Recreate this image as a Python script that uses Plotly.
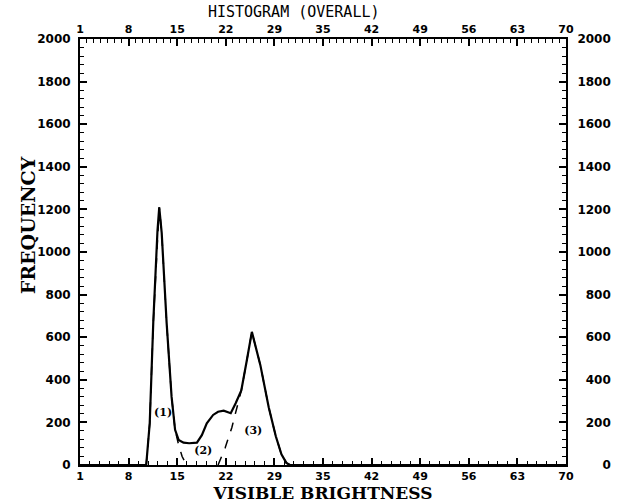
import numpy as np
import plotly.graph_objects as go

# ---- data ----
x_tick_vals = list(np.linspace(1, 70, 11))
x_tick_text = ["1", "8", "15", "22", "29", "35", "42", "49", "56", "63", "70"]
y_tick_vals = list(range(0, 2001, 200))

# overall histogram (solid)
hist_x = [1, 10.4, 10.9, 11.4, 12.0, 12.25, 12.6, 13.3, 14.0, 14.5, 15.0, 15.7, 16.5, 17.6,
          18.3, 19.0, 19.9, 20.6, 21.4, 22.4, 23.1, 23.9, 24.7, 25.4, 26.6, 27.8, 28.8,
          29.6, 30.3, 30.8, 70]
hist_y = [0, 0, 196, 667, 1100, 1210, 1090, 667, 321, 165, 118, 105, 102, 105,
          140, 196, 235, 250, 255, 243, 290, 350, 494, 625, 470, 270, 135,
          50, 10, 0, 0]

# component (1) (dashed)
comp1_x = [10.4, 10.9, 11.4, 12.0, 12.25, 12.6, 13.3, 14.0, 14.5, 15.0, 15.5, 16.0, 16.4]
comp1_y = [0, 196, 667, 1100, 1210, 1090, 667, 321, 165, 95, 40, 8, 0]

# component (3) (dashed)
comp3_x = [20.6, 21.6, 22.55, 23.3, 23.9, 24.7, 25.4, 26.6, 27.8, 28.8, 29.6, 30.3, 30.8]
comp3_y = [0, 80, 175, 275, 350, 494, 625, 470, 270, 135, 50, 10, 0]

# region labels
label_text = ["(1)", "(2)", "(3)"]
label_x = [12.8, 18.5, 25.6]
label_y = [243, 63, 157]

# ---- figure ----
fig = go.Figure()
fig.add_trace(go.Scatter(x=comp1_x, y=comp1_y, mode="lines",
                         line=dict(color="black", width=1.5, dash="dash"), showlegend=False))
fig.add_trace(go.Scatter(x=comp3_x, y=comp3_y, mode="lines",
                         line=dict(color="black", width=1.5, dash="dash"), showlegend=False))
fig.add_trace(go.Scatter(x=hist_x, y=hist_y, mode="lines",
                         line=dict(color="black", width=2.2), showlegend=False))
fig.add_trace(go.Scatter(x=label_x, y=label_y, mode="text", text=label_text,
                         textfont=dict(family="DejaVu Serif", size=11, color="black", weight="bold"),
                         showlegend=False))
# invisible trace for the mirrored axes
fig.add_trace(go.Scatter(x=[1, 70], y=[0, 2000], xaxis="x2", yaxis="y2", mode="markers",
                         marker=dict(opacity=0), showlegend=False, hoverinfo="skip"))

tickfont = dict(family="DejaVu Sans", size=12, color="black", weight="bold")
xtickfont = dict(family="DejaVu Sans", size=11, color="black", weight="bold")

minor_top = list(np.arange(1, 70.0001, 6.9 / 7))
minor_bot = list(np.arange(1, 70.0001, 6.9 / 5))

fig.update_layout(
    width=617, height=503,
    margin=dict(l=80, r=51, t=39, b=38),
    plot_bgcolor="white", paper_bgcolor="white",
    font=dict(family="DejaVu Sans", color="black"),
    xaxis=dict(range=[1, 70], tickmode="array", tickvals=x_tick_vals, ticktext=x_tick_text,
               ticks="inside", ticklen=7, tickwidth=1.5, tickcolor="black",
               minor=dict(ticks="inside", ticklen=4, tickwidth=1.2, tickcolor="black",
                          tickmode="array", tickvals=minor_bot),
               showline=True, linewidth=2, linecolor="black", showgrid=False, zeroline=False,
               tickfont=xtickfont, automargin=False,
               title=dict(text="VISIBLE BRIGHTNESS", standoff=12,
                          font=dict(family="DejaVu Serif", size=17, weight="bold"))),
    xaxis2=dict(range=[1, 70], overlaying="x", side="top", anchor="y",
                tickmode="array", tickvals=x_tick_vals, ticktext=x_tick_text,
                ticks="inside", ticklen=7, tickwidth=1.5, tickcolor="black",
                minor=dict(ticks="inside", ticklen=4, tickwidth=1.2, tickcolor="black",
                           tickmode="array", tickvals=minor_top),
                showline=True, linewidth=2, linecolor="black", showgrid=False, zeroline=False,
                tickfont=xtickfont, automargin=False),
    yaxis=dict(range=[0, 2000], tickmode="array", tickvals=y_tick_vals,
               ticktext=[str(v) for v in y_tick_vals],
               ticks="inside", ticklen=7, tickwidth=1.5, tickcolor="black",
               minor=dict(ticks="inside", ticklen=4, tickwidth=1.2, tickcolor="black", dtick=40),
               showline=True, linewidth=2, linecolor="black", showgrid=False, zeroline=False,
               tickfont=tickfont, ticklabelstandoff=5, automargin=False),
    yaxis2=dict(range=[0, 2000], overlaying="y", side="right", anchor="x",
                tickmode="array", tickvals=y_tick_vals,
                ticktext=["\u2007" * (4 - len(str(v))) + str(v) for v in y_tick_vals],
                ticks="inside", ticklen=7, tickwidth=1.5, tickcolor="black",
                minor=dict(ticks="inside", ticklen=4, tickwidth=1.2, tickcolor="black", dtick=40),
                showline=True, linewidth=2, linecolor="black", showgrid=False, zeroline=False,
                tickfont=tickfont, ticklabelstandoff=7, automargin=False),
    title=dict(text="HISTOGRAM (OVERALL)", xref="container", yref="container",
               x=0.476, y=0.976, xanchor="center", yanchor="middle",
               font=dict(family="DejaVu Sans Mono", size=15, color="black")),
    annotations=[dict(text="FREQUENCY", xref="paper", yref="paper",
                      x=-0.107, y=0.563, xanchor="center", yanchor="middle",
                      textangle=-90, showarrow=False,
                      font=dict(family="DejaVu Serif", size=19, color="black", weight="bold"))],
)

fig.write_html("out.html", config={"displayModeBar": False},
               post_script="document.body.style.margin='0px';")
